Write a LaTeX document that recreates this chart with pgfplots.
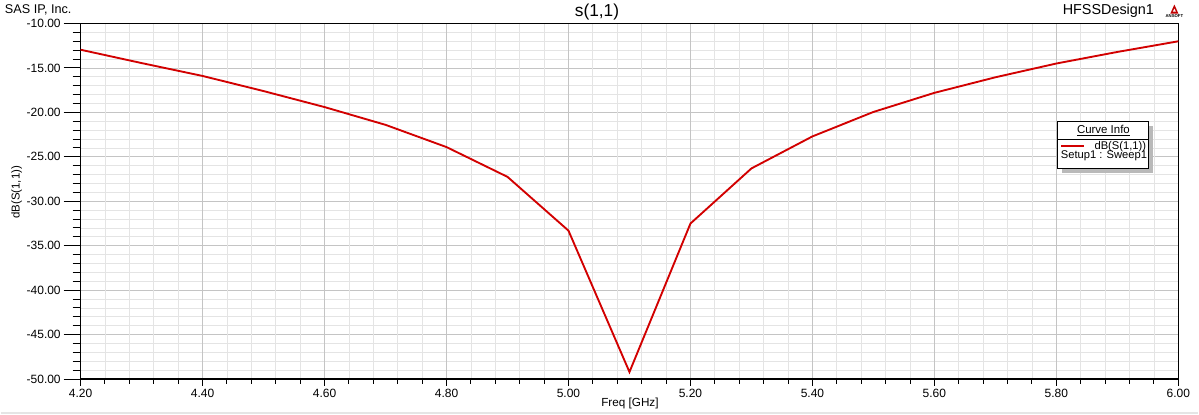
\documentclass[border=0pt]{standalone}
\usepackage{pgfplots}
\pgfplotsset{compat=1.18}
\usepackage{fontspec}
\setmainfont{Liberation Sans}
\definecolor{curvered}{RGB}{210,0,0}
\definecolor{majgrid}{RGB}{196,196,196}
\definecolor{mingrid}{RGB}{228,228,228}
\begin{document}
\begin{tikzpicture}
\begin{scope}[x=0.75pt,y=-0.75pt]
\path[use as bounding box] (0,0) rectangle (1199,413);
\end{scope}
% underlying axis: y grid, long y ticks, y labels
\begin{axis}[
  at={(60pt,-283.5pt)}, anchor=south west,
  scale only axis, width=824.25pt, height=267pt,
  xmin=4.2, xmax=6.0, ymin=-50, ymax=-10,
  xtick=\empty,
  ytick={-50,-45,-40,-35,-30,-25,-20,-15,-10},
  minor y tick num=4,
  ymajorgrids, yminorgrids,
  major grid style={color=majgrid, line width=0.6pt},
  minor grid style={color=mingrid, line width=0.6pt},
  axis line style={draw=none},
  tick style={black, line width=0.75pt},
  tick align=outside, major tick length=12.75pt, minor tick length=6pt,
  ytick pos=left,
  yticklabel style={font=\fontsize{9}{10}\selectfont, inner sep=2pt},
  /pgf/number format/assume math mode=true,
  /pgf/number format/fixed, /pgf/number format/fixed zerofill,
  /pgf/number format/precision=2,
]
\end{axis}
% main axis: x grid, x ticks, frame, curve
\begin{axis}[
  at={(60pt,-283.5pt)}, anchor=south west,
  scale only axis, width=824.25pt, height=267pt,
  xmin=4.2, xmax=6.0, ymin=-50, ymax=-10,
  xtick={4.2,4.4,4.6,4.8,5.0,5.2,5.4,5.6,5.8,6.0},
  ytick=\empty,
  minor x tick num=4,
  xmajorgrids, xminorgrids,
  major grid style={color=majgrid, line width=0.6pt},
  minor grid style={color=mingrid, line width=0.6pt},
  axis line style={black, line width=1.1pt},
  tick style={black, line width=0.75pt},
  tick align=outside, major tick length=5pt, minor tick length=3.5pt,
  xtick pos=left,
  xticklabel style={font=\fontsize{9}{10}\selectfont, yshift=1pt},
  /pgf/number format/assume math mode=true,
  /pgf/number format/fixed, /pgf/number format/fixed zerofill,
  /pgf/number format/precision=2,
]
\addplot[color=curvered, line width=1.4pt] coordinates {
  (4.2,-12.95) (4.3,-14.45) (4.4,-15.9) (4.5,-17.6) (4.6,-19.4)
  (4.7,-21.4) (4.8,-23.9) (4.9,-27.25) (5.0,-33.3) (5.1,-49.2)
  (5.2,-32.5) (5.3,-26.3) (5.4,-22.7) (5.5,-19.95) (5.6,-17.8)
  (5.7,-16.05) (5.8,-14.5) (5.9,-13.2) (6.0,-12.0)
};
\end{axis}
\begin{scope}[x=0.75pt,y=-0.75pt]
  % texts
  \node[font=\fontsize{13}{14}\selectfont] at (597,11) {s(1,1)};
  \node[anchor=west, inner sep=0pt, font=\fontsize{9.5}{10}\selectfont] at (4,8) {SAS IP, Inc.};
  \node[anchor=west, inner sep=0pt, font=\fontsize{10.8}{12}\selectfont] at (1063,9) {HFSSDesign1};
  % logo
  \fill[red!75!black] (1171,12) -- (1179,12) -- (1175,3) -- cycle;
  \fill[white] (1173.5,10) -- (1176.5,10) -- (1175,7) -- cycle;
  \node[font=\fontsize{3.2}{4}\selectfont\bfseries, inner sep=0pt] at (1175,15) {ANSOFT};
  % axis labels
  \node[font=\fontsize{8.8}{10}\selectfont] at (630,402) {Freq [GHz]};
  \node[font=\fontsize{8.6}{9}\selectfont, rotate=90] at (16,191) {dB(S(1,1))};
  % legend
  \fill[gray!55] (1063,125) rectangle (1154,172);
  \fill[white] (1058,120) rectangle (1149,167);
  \draw[black, line width=1.1pt] (1058,120) rectangle (1149,167);
  \draw[black, line width=0.6pt] (1058,138) -- (1149,138);
  \node[font=\fontsize{8.6}{9}\selectfont, inner sep=0pt] at (1104,129) {\underline{Curve Info}};
  \draw[curvered, line width=1.2pt] (1062,144.5) -- (1085,144.5);
  \node[anchor=east, font=\fontsize{8.4}{9}\selectfont, inner sep=0pt] at (1147,145) {dB(S(1,1))};
  \node[anchor=east, font=\fontsize{8.4}{9}\selectfont, inner sep=0pt] at (1148,154.5) {Setup1 : Sweep1};
  % bottom border
  \draw[gray!20, line width=1pt] (0,412) -- (1199,412);
\end{scope}
\end{tikzpicture}
\end{document}
